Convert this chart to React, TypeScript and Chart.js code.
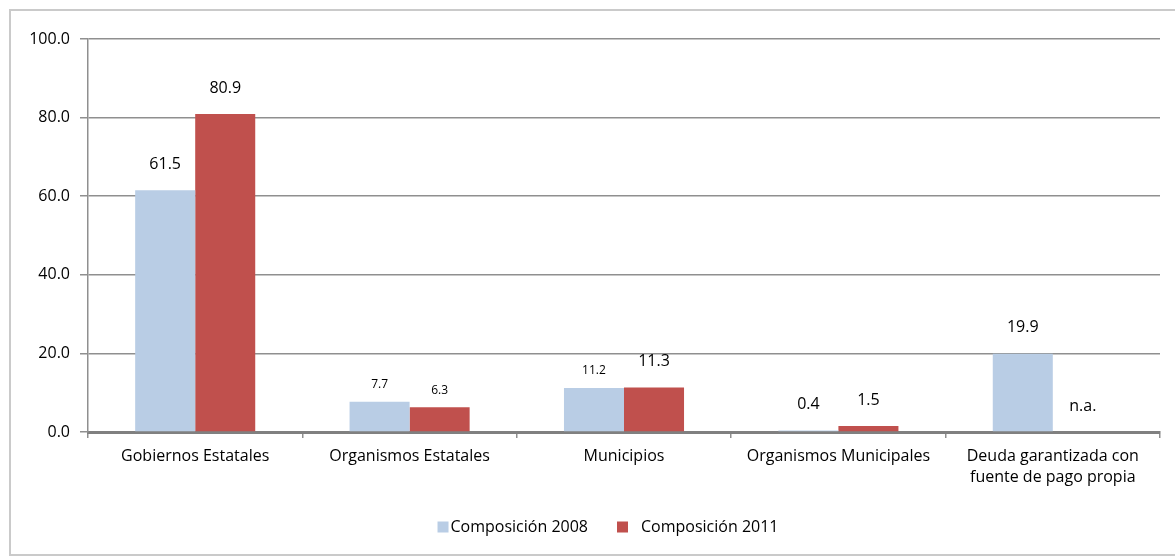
import { useEffect, useRef } from 'react';
import { Chart, registerables } from 'chart.js';

Chart.register(...registerables);

// Deuda por tipo de deudor: composición porcentual
const categories: (string | string[])[] = [
  'Gobiernos Estatales',
  'Organismos Estatales',
  'Municipios',
  'Organismos Municipales',
  ['Deuda garantizada con', 'fuente de pago propia'],
];
const composicion2008: (number | null)[] = [61.5, 7.7, 11.2, 0.4, 19.9];
const composicion2011: (number | null)[] = [80.9, 6.3, 11.3, 1.5, null];
const seriesNames = ['Composición 2008', 'Composición 2011'];
const yTickValues = [0, 20, 40, 60, 80, 100];
const missingValueText = 'n.a.';

// Which value labels are set in the smaller type (per series, per category)
const compactLabel = [
  [false, true, true, false, false],
  [false, true, false, false, false],
];

const FONT = '"Open Sans", "DejaVu Sans", sans-serif';
const BLUE = '#B9CDE5';
const RED = '#C0504D';
const GRID = '#8f8f8f';

const valueLabelPlugin = {
  id: 'valueLabels',
  afterDatasetsDraw(chart: any) {
    const { ctx } = chart;
    const yScale = chart.scales.y;
    ctx.save();
    ctx.fillStyle = '#000';
    ctx.textAlign = 'center';
    ctx.textBaseline = 'middle';
    chart.data.datasets.forEach((ds: any, di: number) => {
      const meta = chart.getDatasetMeta(di);
      ds.data.forEach((v: number | null, i: number) => {
        const el = meta.data[i];
        if (!el) return;
        const small = compactLabel[di][i];
        ctx.font = `${small ? 12 : 16}px ${FONT}`;
        const top = v == null ? yScale.getPixelForValue(0) : el.y;
        const text = v == null ? missingValueText : v.toFixed(1);
        ctx.fillText(text, el.x, top - (small ? 17 : 26));
      });
    });
    ctx.restore();
  },
};

const legendPlugin = {
  id: 'bottomLegend',
  afterDraw(chart: any) {
    const { ctx, chartArea } = chart;
    ctx.save();
    ctx.font = `16px ${FONT}`;
    ctx.textBaseline = 'middle';
    ctx.textAlign = 'left';
    const box = 11;
    const boxToText = [2, 13];
    const between = 29;
    const items = chart.data.datasets.map((ds: any) => ({
      label: ds.label as string,
      color: ds.backgroundColor as string,
      w: ctx.measureText(ds.label).width,
    }));
    let total = between * (items.length - 1);
    items.forEach((it: any, i: number) => (total += box + boxToText[i] + it.w));
    const cx = (chartArea.left + chartArea.right) / 2 - 16;
    const cy = 527;
    let x = cx - total / 2;
    items.forEach((it: any, i: number) => {
      ctx.fillStyle = it.color;
      ctx.fillRect(x, cy - box / 2, box, box);
      x += box + boxToText[i];
      ctx.fillStyle = '#000';
      ctx.fillText(it.label, x, cy);
      x += it.w + between;
    });
    ctx.restore();
  },
};

export default function App() {
  const canvasRef = useRef<HTMLCanvasElement | null>(null);

  useEffect(() => {
    if (!canvasRef.current) return;
    const chart = new Chart(canvasRef.current, {
      type: 'bar',
      data: {
        labels: categories,
        datasets: [
          {
            label: seriesNames[0],
            data: composicion2008,
            backgroundColor: BLUE,
            barPercentage: 1,
            categoryPercentage: 0.56,
          },
          {
            label: seriesNames[1],
            data: composicion2011,
            backgroundColor: RED,
            barPercentage: 1,
            categoryPercentage: 0.56,
          },
        ],
      },
      options: {
        responsive: false,
        animation: false,
        devicePixelRatio: 1,
        layout: { padding: { left: 8, right: 15, top: 39, bottom: 0 } },
        plugins: {
          legend: { display: false },
          tooltip: { enabled: false },
        },
        scales: {
          x: {
            offset: true,
            grid: {
              offset: true,
              drawOnChartArea: false,
              drawTicks: true,
              tickLength: 6,
              color: GRID,
              lineWidth: 1.5,
            },
            border: { display: true, color: '#808080', width: 3 },
            ticks: {
              color: '#000',
              font: { family: FONT, size: 16, lineHeight: 1.3 },
              padding: 8,
              maxRotation: 0,
              autoSkip: false,
            },
            afterFit: (s: any) => {
              s.height = 125;
            },
          },
          y: {
            min: 0,
            max: 100,
            afterBuildTicks: (s: any) => {
              s.ticks = yTickValues.map((v) => ({ value: v }));
            },
            grid: {
              color: GRID,
              lineWidth: 1.5,
              tickLength: 8,
              drawTicks: true,
            },
            border: { display: true, color: GRID, width: 1.5 },
            ticks: {
              color: '#000',
              font: { family: FONT, size: 16 },
              padding: 10,
              callback: (v: any) => Number(v).toFixed(1),
            },
            afterFit: (s: any) => {
              s.width = 80;
            },
          },
        },
      },
      plugins: [valueLabelPlugin, legendPlugin],
    });
    return () => chart.destroy();
  }, []);

  return (
    <div
      style={{
        position: 'fixed',
        left: 0,
        top: 0,
        width: 1175,
        height: 557,
        overflow: 'hidden',
        background: '#fff',
      }}
    >
      <div
        style={{
          position: 'absolute',
          left: 9,
          top: 9,
          width: 1300,
          height: 543,
          border: '2px solid #cacaca',
        }}
      />
      <canvas
        ref={canvasRef}
        width={1175}
        height={557}
        style={{ position: 'absolute', left: 0, top: 0, width: 1175, height: 557 }}
      />
    </div>
  );
}
